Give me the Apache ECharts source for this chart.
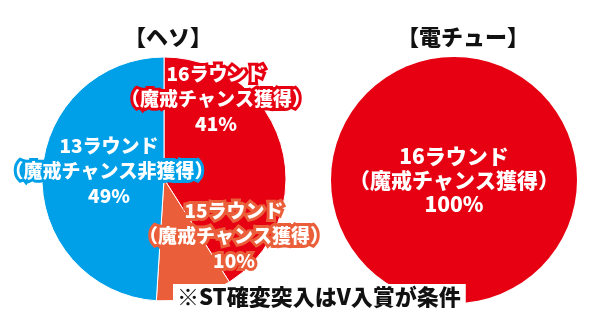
<!DOCTYPE html>
<html>
<head>
<meta charset="utf-8">
<script src="https://cdn.jsdelivr.net/npm/echarts@6/dist/echarts.min.js"></script>
<style>
html,body{margin:0;padding:0;background:#fff;}
#chart{width:592px;height:328px;}
</style>
</head>
<body>
<div id="chart"></div>
<script>
// ---- data ----
var pieTitles = ['【ヘソ】', '【電チュー】'];
var hesoNames = ['16ラウンド\n（魔戒チャンス獲得）', '15ラウンド\n（魔戒チャンス獲得）', '13ラウンド\n（魔戒チャンス非獲得）'];
var hesoValues = [41, 10, 49];
var denchuNames = ['16ラウンド\n（魔戒チャンス獲得）'];
var denchuValues = [100];
var footnote = '※ST確変突入はV入賞が条件';

// ---- styles ----
var hesoColors = ['#e60012', '#ea5f3a', '#00a0e9'];
var denchuColors = ['#e60012'];
var FONT = '"Noto Sans CJK JP", sans-serif';
var hesoLabelShift = [[52, -80], [70, 57], [-55, -8]];

var chart = echarts.init(document.getElementById('chart'), null, {renderer: 'canvas'});

function buildData(names, values, colors) {
  return names.map(function (n, i) {
    return {
      name: n,
      value: values[i],
      itemStyle: {color: colors[i]},
      label: {textBorderColor: colors[i]}
    };
  });
}

var labelBase = {
  show: true,
  position: 'center',
  formatter: '{b}\n{c}%',
  color: '#fff',
  fontFamily: FONT,
  fontWeight: 900,
  fontSize: 19,
  lineHeight: 25,
  textBorderWidth: 6
};

chart.setOption({
  animation: false,
  title: [
    {text: pieTitles[0], left: 163, top: 21, textAlign: 'center',
     textStyle: {fontFamily: FONT, fontWeight: 900, fontSize: 22, color: '#111'}},
    {text: pieTitles[1], left: 458, top: 21, textAlign: 'center',
     textStyle: {fontFamily: FONT, fontWeight: 900, fontSize: 22, color: '#111'}},
    {text: footnote, left: 173, top: 284, padding: [2, 5, 20, 4], backgroundColor: '#fff', z: 10,
     textStyle: {fontFamily: FONT, fontWeight: 900, fontSize: 22, color: '#111'}}
  ],
  series: [
    {
      type: 'pie',
      center: [164, 179],
      radius: 122,
      startAngle: 90,
      clockwise: true,
      itemStyle: {borderColor: '#fff', borderWidth: 1},
      label: labelBase,
      labelLine: {show: false},
      labelLayout: function (p) {
        var s = hesoLabelShift[p.dataIndex];
        return {dx: s[0], dy: s[1]};
      },
      data: buildData(hesoNames, hesoValues, hesoColors)
    },
    {
      type: 'pie',
      center: [454, 180],
      radius: 123,
      startAngle: 90,
      clockwise: true,
      label: Object.assign({}, labelBase, {textBorderWidth: 0, fontSize: 21, lineHeight: 24}),
      labelLine: {show: false},
      data: buildData(denchuNames, denchuValues, denchuColors)
    }
  ]
});
</script>
</body>
</html>
